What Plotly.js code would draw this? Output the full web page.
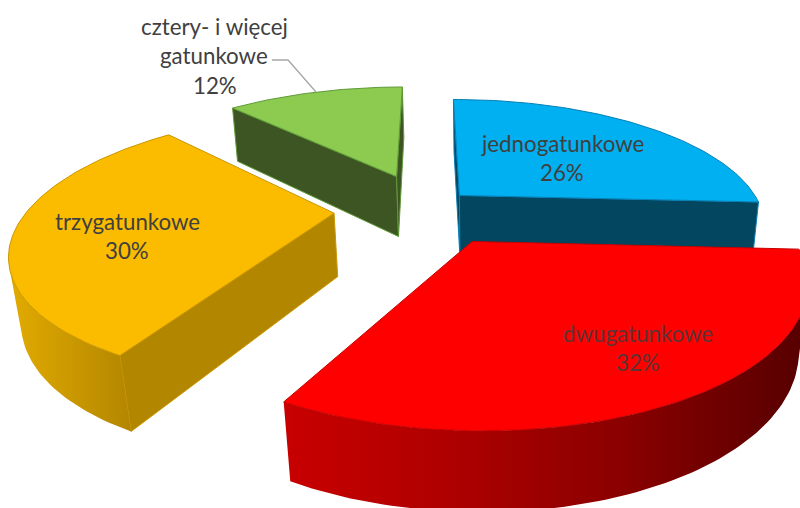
<!DOCTYPE html>
<html><head><meta charset="utf-8">
<script src="https://cdn.plot.ly/plotly-3.0.1.min.js"></script>
<style>html,body{margin:0;padding:0;background:#fff;overflow:hidden}#c{width:800px;height:508px}</style>
</head><body><div id="c"></div>
<script>
// ---- chart data ----
const categories = ['jednogatunkowe','dwugatunkowe','trzygatunkowe','cztery- i więcej gatunkowe'];
const shares = [26,32,30,12];
const pulls = [0.15,0.29,0.305,0.29];
// ---- styles ----
const topColors = ['#00B0F0','#FF0000','#FBBC00','#8CCB50'];
const edgeColors = ['#0A7FB5','#C80000','#C99700','#5F9A38'];
const wallColors = ['#02475F','#A80000','#B38600','#3D5522'];
const arcWallScales = [
  [[0,'#02475F'],[1,'#02475F']],
  [[0,'#C80000'],[0.3,'#B00000'],[0.65,'#8A0000'],[1,'#560000']],
  [[0,'#E2AB00'],[1,'#B38600']],
  [[0,'#3D5522'],[1,'#3D5522']]
];
const labelLines = [
  [{t:'jednogatunkowe',x:562,y:143},{t:'26%',x:562,y:172}],
  [{t:'dwugatunkowe',x:638,y:333},{t:'32%',x:638,y:362}],
  [{t:'trzygatunkowe',x:127,y:221},{t:'30%',x:127,y:250}],
  [{t:'cztery- i więcej',x:214,y:26},{t:'gatunkowe',x:214,y:55},{t:'12%',x:215,y:85}]
];
const labelColors = ['#404040','#5E3434','#404040','#404040'];
const leaderX = [272,288,316], leaderY = [60,60,92];
// ---- projection of the tilted pie onto the page ----
const P = {a:306,b:102.7,c:427,d:0,e:-74.5,f:208,g:0.005,h:0.24,p:12,q:0.0249,r:69.7};
function proj(u,v,z){
  const w = P.g*u + P.h*v + 1 + P.q*z;
  return [(P.a*u + P.b*v + P.c + P.p*z)/w, (P.d*u + P.e*v + P.f + P.r*z)/w];
}
const traces = [];
function poly(pts, fillcolor, line, grad){
  const t = {type:'scatter',mode:'lines',x:pts.map(p=>p[0]).concat(pts[0][0]),y:pts.map(p=>p[1]).concat(pts[0][1]),
    fill:'toself',hoverinfo:'skip',showlegend:false,line:line||{width:0}};
  if(grad) t.fillgradient = {type:'horizontal',colorscale:grad}; else t.fillcolor = fillcolor;
  traces.push(t);
}
function front(A,B){ // world (u,v) points: wall A->B seen from the camera?
  const a=proj(A[0],A[1],0), b=proj(B[0],B[1],0), d=proj(A[0],A[1],1);
  return ((b[0]-a[0])*(d[1]-a[1]) - (b[1]-a[1])*(d[0]-a[0])) < 0;
}
const total = shares.reduce((s,v)=>s+v,0);
let cum = 0;
const slices = shares.map((v,i)=>{
  const s = cum/total*2*Math.PI; cum += v; const e = cum/total*2*Math.PI; const m=(s+e)/2;
  const ax = pulls[i]*Math.sin(m), ay = pulls[i]*Math.cos(m);
  const arc = []; const n = Math.max(12,Math.round(v*3));
  for(let k=0;k<=n;k++){const t=s+(e-s)*k/n; arc.push([ax+Math.sin(t),ay+Math.cos(t)]);}
  return {i,apex:[ax,ay],arc};
});
// painter's order: far slices first
[3,0,2,1].forEach(i=>{
  const S = slices[i], arc=S.arc, apex=S.apex, last=arc[arc.length-1];
  const edgeLine = {width:1,color:edgeColors[i]};
  const wall=(A,B)=>{ if(front(A,B)) poly([proj(A[0],A[1],0),proj(B[0],B[1],0),proj(B[0],B[1],1),proj(A[0],A[1],1)],wallColors[i],{width:1,color:edgeColors[i]}); };
  wall(apex,arc[0]);
  wall(last,apex);
  // curved wall: contiguous camera-facing run of the arc
  let run=[];
  const flush=()=>{ if(run.length>1){
      const pts = run.map(p=>proj(p[0],p[1],0)).concat(run.slice().reverse().map(p=>proj(p[0],p[1],1)));
      poly(pts,null,{width:0},arcWallScales[i]); }
    run=[]; };
  for(let k=0;k<arc.length-1;k++){
    if(front(arc[k],arc[k+1])){ if(!run.length) run.push(arc[k]); run.push(arc[k+1]); } else flush();
  }
  flush();
  const top=[apex].concat(arc).map(p=>proj(p[0],p[1],0));
  poly(top,topColors[i],edgeLine);
});
traces.push({type:'scatter',mode:'lines',x:leaderX,y:leaderY,line:{width:1.3,color:'#A6A6A6'},hoverinfo:'skip',showlegend:false});
const annotations=[];
labelLines.forEach((ls,i)=>ls.forEach(l=>annotations.push({xref:'x',yref:'y',x:l.x,y:l.y,text:l.t,showarrow:false,
  xanchor:'center',yanchor:'middle',font:{family:'Lato, "Open Sans", sans-serif',size:22.3,color:labelColors[i]}})));
Plotly.newPlot('c',traces,{
  width:800,height:508,margin:{l:0,r:0,t:0,b:0},paper_bgcolor:'#fff',plot_bgcolor:'#fff',showlegend:false,
  xaxis:{range:[0,800],visible:false,fixedrange:true},
  yaxis:{range:[508,0],visible:false,fixedrange:true},
  annotations
},{displayModeBar:false,staticPlot:true});
</script></body></html>
